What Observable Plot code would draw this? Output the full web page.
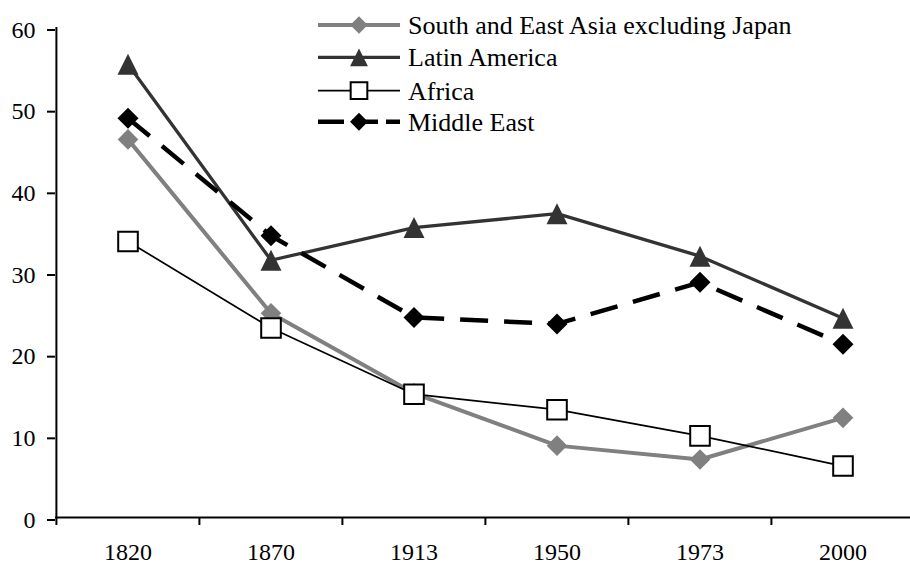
<!DOCTYPE html>
<html>
<head>
<meta charset="utf-8">
<script src="https://cdn.jsdelivr.net/npm/d3@7"></script>
<script src="https://cdn.jsdelivr.net/npm/@observablehq/plot@0.6"></script>
<style>
  html, body { margin: 0; padding: 0; background: #fff; }
  #chart { width: 910px; height: 566px; }
  #chart svg, #chart svg text { font-family: 'Liberation Serif', 'Times New Roman', serif !important; }
</style>
</head>
<body>
<div id="chart"></div>
<script>
const years = ["1820", "1870", "1913", "1950", "1973", "2000"];
const yTicks = [0, 10, 20, 30, 40, 50, 60];
const seriesNames = ["South and East Asia excluding Japan", "Latin America", "Africa", "Middle East"];
const southEastAsia = [46.3, 25.0, 15.2, 8.8, 7.1, 12.2];
const latinAmerica = [55.5, 31.5, 35.5, 37.2, 32.0, 24.4];
const africa = [33.8, 23.2, 15.1, 13.2, 10.0, 6.3];
const middleEast = [48.9, 34.5, 24.5, 23.7, 28.8, 21.2];

const FONT = "'Liberation Serif', 'Times New Roman', serif";

// custom symbols centred on their bounding box
const rOf = s => Math.sqrt(s / Math.PI);
const diamondSym = {draw(c, s) { const r = rOf(s); c.moveTo(0, -r); c.lineTo(r, 0); c.lineTo(0, r); c.lineTo(-r, 0); c.closePath(); }};
const triangleSym = {draw(c, s) { const r = rOf(s); c.moveTo(0, -r); c.lineTo(r, r); c.lineTo(-r, r); c.closePath(); }};
const squareSym = {draw(c, s) { const r = rOf(s); c.moveTo(-r, -r); c.lineTo(r, -r); c.lineTo(r, r); c.lineTo(-r, r); c.closePath(); }};

const styles = [
  {name: seriesNames[0], values: southEastAsia, stroke: "#808080", width: 4, dash: null, symbol: diamondSym, r: 10.3, fill: "#808080", mstroke: "none", msw: 0},
  {name: seriesNames[1], values: latinAmerica, stroke: "#333333", width: 3.3, dash: null, symbol: triangleSym, r: 10.5, fill: "#333333", mstroke: "none", msw: 0},
  {name: seriesNames[2], values: africa, stroke: "#000000", width: 1.7, dash: null, symbol: squareSym, r: 9.8, fill: "#ffffff", mstroke: "#000000", msw: 2},
  {name: seriesNames[3], values: middleEast, stroke: "#000000", width: 4.5, dash: "28,16", symbol: diamondSym, r: 10.5, fill: "#000000", mstroke: "none", msw: 0}
];

const rows = styles.map(s => s.values.map((v, i) => ({series: s.name, year: years[i], value: v})));

const xRange = [55, 914.2];
const bw = (xRange[1] - xRange[0]) / years.length;

const lineMarks = styles.map((s, k) => Plot.line(rows[k], {
  x: "year", y: "value", stroke: s.stroke, strokeWidth: s.width,
  strokeDasharray: s.dash, strokeLinejoin: "miter", strokeLinecap: "butt"
}));
const dotMarks = styles.map((s, k) => Plot.dot(rows[k], {
  x: "year", y: "value", symbol: s.symbol, r: s.r, fill: s.fill,
  stroke: s.mstroke, strokeWidth: s.msw
}));

const plot = Plot.plot({
  width: 910,
  height: 566,
  marginLeft: 55,
  marginRight: 0,
  marginTop: 27,
  marginBottom: 49,
  style: {fontFamily: FONT, fontSize: "24px", color: "#000", background: "#fff"},
  x: {type: "band", domain: years, range: xRange, padding: 0},
  y: {domain: [0, 60]},
  marks: [
    ...lineMarks,
    ...dotMarks,
    Plot.ruleY([0], {stroke: "#000", strokeWidth: 2}),
    Plot.ruleX([years[0]], {x: d => d, dx: -bw / 2, stroke: "#000", strokeWidth: 2}),
    Plot.axisY({ticks: yTicks, tickSize: 8, tickPadding: 12, strokeWidth: 2, stroke: "#000", fill: "#000", dy: 2.5, fontSize: 24, fontFamily: FONT, label: null}),
    Plot.axisX({tickSize: 8, dx: -bw / 2, strokeWidth: 2, stroke: "#000", tickFormat: () => "", label: null}),
    Plot.axisX({tickSize: 0, tickPadding: 25, fill: "#000", fontSize: 24, fontFamily: FONT, label: null})
  ]
});

document.getElementById("chart").appendChild(plot);

// legend (overlaid in the upper part of the chart)
const svg = d3.select(plot);
const lg = svg.append("g").attr("class", "legend").attr("text-anchor", "start");
const rowY = [25, 57.3, 90.7, 121.7];
styles.forEach((s, k) => {
  const y = rowY[k];
  const g = lg.append("g");
  g.append("line").attr("x1", 318).attr("x2", 400).attr("y1", y).attr("y2", y)
    .attr("stroke", s.stroke).attr("stroke-width", s.width)
    .attr("stroke-dasharray", s.dash ? "26,8" : null);
  const p = d3.path();
  s.symbol.draw(p, Math.PI * (s.r * 0.85) ** 2);
  g.append("path").attr("d", p.toString()).attr("transform", `translate(359,${y})`)
    .attr("fill", s.fill).attr("stroke", s.mstroke).attr("stroke-width", s.msw || null);
  g.append("text").attr("x", 408).attr("y", y + 8.8).text(s.name)
    .attr("text-anchor", "start")
    .attr("font-family", FONT).attr("font-size", 26).attr("fill", "#000");
});
</script>
</body>
</html>
